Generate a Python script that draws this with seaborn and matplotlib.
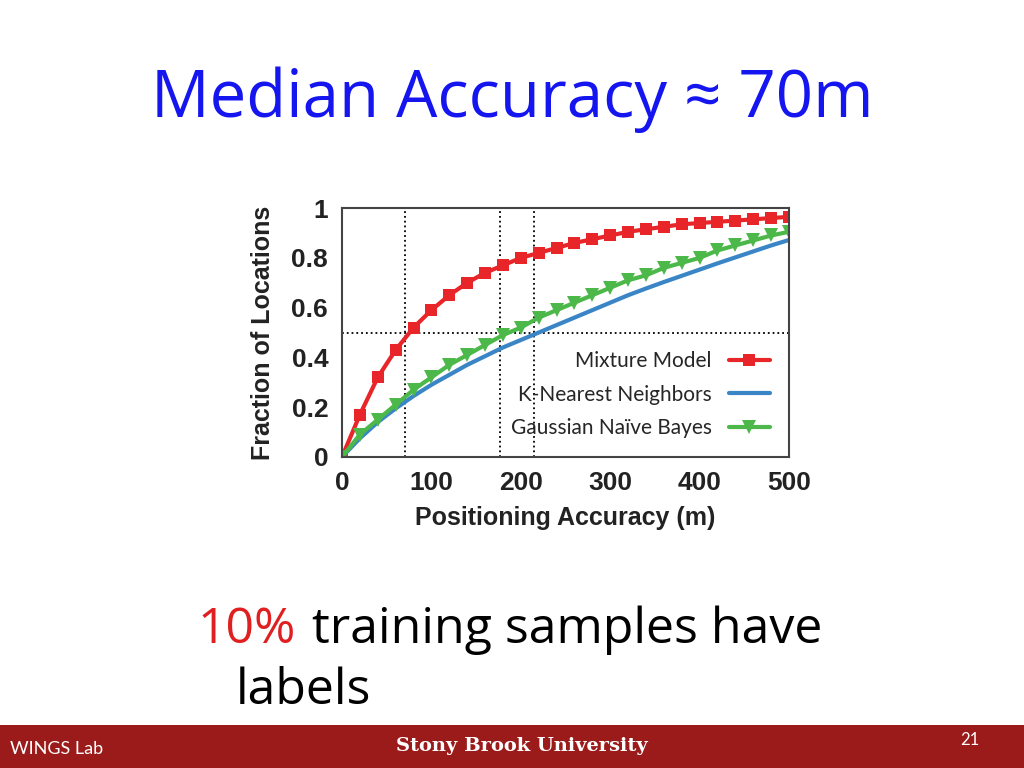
import matplotlib.pyplot as plt
import seaborn as sns
import pandas as pd

accuracy = list(range(0, 501, 20))
mixture = [0, 0.17, 0.32, 0.43, 0.52, 0.59, 0.65, 0.70, 0.74, 0.77, 0.80, 0.82, 0.84,
           0.86, 0.875, 0.89, 0.905, 0.915, 0.925, 0.935, 0.94, 0.945, 0.95, 0.955, 0.96, 0.965]
knn = [0, 0.075, 0.14, 0.195, 0.245, 0.29, 0.33, 0.37, 0.405, 0.44, 0.47, 0.50, 0.53,
       0.56, 0.59, 0.62, 0.65, 0.677, 0.703, 0.728, 0.753, 0.778, 0.802, 0.826, 0.85, 0.872]
gnb = [0, 0.09, 0.15, 0.21, 0.27, 0.32, 0.37, 0.41, 0.45, 0.49, 0.52, 0.56, 0.59,
       0.62, 0.65, 0.68, 0.71, 0.73, 0.76, 0.78, 0.80, 0.83, 0.85, 0.87, 0.89, 0.905]
vlines = [70, 177, 215]

sns.set_style("white")
fig = plt.figure(figsize=(10.24, 7.68), dpi=100)
ax = fig.add_axes([0.334, 0.405, 0.4365, 0.324])

df = pd.DataFrame({"x": accuracy, "Mixture Model": mixture,
                   "K-Nearest Neighbors": knn, "Gaussian Naïve Bayes": gnb})
sns.lineplot(data=df, x="x", y="Mixture Model", ax=ax, color="#e8262a", lw=3,
             marker="s", markersize=8, markeredgewidth=0, label="Mixture Model")
sns.lineplot(data=df, x="x", y="K-Nearest Neighbors", ax=ax, color="#3a85c6", lw=3,
             label="K-Nearest Neighbors")
sns.lineplot(data=df, x="x", y="Gaussian Naïve Bayes", ax=ax, color="#4cb849", lw=3,
             marker="v", markersize=10, markeredgewidth=0, label="Gaussian Naïve Bayes")

for v in vlines:
    ax.axvline(v, color="black", ls=":", lw=1.3, zorder=0)
ax.axhline(0.5, color="black", ls=":", lw=1.3, zorder=0)

ax.set_xlim(0, 500)
ax.set_ylim(0, 1)
ax.set_xticks([0, 100, 200, 300, 400, 500])
ax.set_yticks([0, 0.2, 0.4, 0.6, 0.8, 1])
ax.set_yticklabels(["0", "0.2", "0.4", "0.6", "0.8", "1"])
for s in ax.spines.values():
    s.set_color("#444444")
    s.set_linewidth(1.5)
ax.tick_params(direction="in", length=5, labelsize=19, pad=10)
for lab in ax.get_xticklabels() + ax.get_yticklabels():
    lab.set_fontfamily("Liberation Sans")
    lab.set_fontweight("bold")
    lab.set_color("#222222")
ax.set_xlabel("Positioning Accuracy (m)", fontsize=18, family="Liberation Sans",
              weight="bold", color="#222222", labelpad=8)
ax.set_ylabel("Fraction of Locations", fontsize=18, family="Liberation Sans",
              weight="bold", color="#222222", labelpad=12)

leg = ax.legend(loc="lower right", bbox_to_anchor=(1.0, 0.0), frameon=False,
                markerfirst=False, handlelength=2.0,
                labelspacing=0.65, prop={"family": "Lato", "size": 15})

fig.text(0.5, 0.87, "Median Accuracy ≈ 70m", ha="center", va="center",
         fontsize=47, color="#1515f0", family="Open Sans")
fig.text(0.193, 0.179, "10%", ha="left", va="center", fontsize=36,
         color="#e02020", family="Open Sans")
fig.text(0.305, 0.179, "training samples have", ha="left", va="center",
         fontsize=36, color="black", family="Open Sans")
fig.text(0.23, 0.10, "labels", ha="left", va="center", fontsize=36,
         color="black", family="Open Sans")

band = fig.add_axes([0, 0, 1, 0.056])
band.set_facecolor("#9b1b1b")
band.set_xticks([])
band.set_yticks([])
for s in band.spines.values():
    s.set_visible(False)
band.text(0.01, 0.45, "WINGS Lab", color="white", fontsize=13, va="center",
          family="Lato", transform=band.transAxes)
band.text(0.51, 0.5, "Stony Brook University", color="white", fontsize=14,
          va="center", ha="center", family="DejaVu Serif", weight="bold",
          transform=band.transAxes)
band.text(0.938, 0.65, "21", color="white", fontsize=12, va="center",
          family="Lato", transform=band.transAxes)

fig.savefig("out.png", dpi=100)
